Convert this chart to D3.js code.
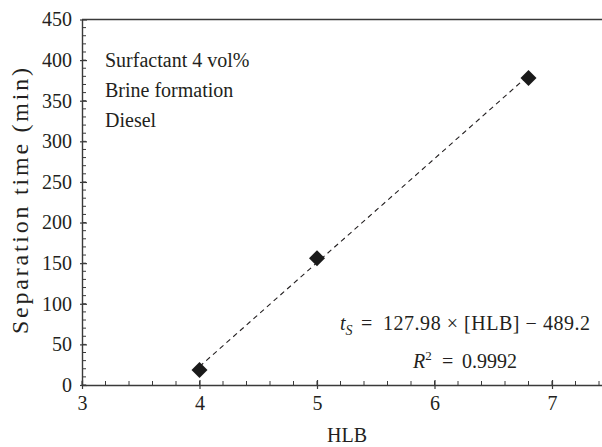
<!DOCTYPE html>
<html><head><meta charset="utf-8">
<script src="https://cdn.jsdelivr.net/npm/d3@7"></script>
<style>
body{margin:0;background:#fff;}
svg{display:block;}
text{font-family:"Liberation Serif","Times New Roman",serif;fill:#231f20;}
</style></head>
<body><svg id="c" width="602" height="447"></svg>
<script>
const hlb = [4, 5, 6.8];
const sepTime = [18.5, 156, 378];
const fitX = [4, 6.8];
const fitY = [22.7, 381.1];
const xTicks = [3, 4, 5, 6, 7];
const yTicks = [0, 50, 100, 150, 200, 250, 300, 350, 400, 450];
const notes = ["Surfactant 4 vol%", "Brine formation", "Diesel"];

const svg = d3.select("#c");
const x = d3.scaleLinear().domain([3, 7.5]).range([82, 82 + 4.5 * 117.5]);
const y = d3.scaleLinear().domain([0, 450]).range([385, 19.5]);
const axisCol = "#3a3a3a";

const xMinor = d3.range(3, 7.41, 0.2);
svg.append("g").selectAll("line").data(xMinor).join("line")
  .attr("x1", d => x(d)).attr("x2", d => x(d))
  .attr("y1", y(0)).attr("y2", y(0) - 4)
  .attr("stroke", axisCol).attr("stroke-width", 1);
const yMinor = d3.range(0, 451, 10);
svg.append("g").selectAll("line").data(yMinor).join("line")
  .attr("x1", x(3)).attr("x2", x(3) + 4)
  .attr("y1", d => y(d)).attr("y2", d => y(d))
  .attr("stroke", axisCol).attr("stroke-width", 1);

const gx = svg.append("g").attr("transform", `translate(0,${y(0)})`)
  .call(d3.axisBottom(x).tickValues(xTicks).tickSizeInner(-5).tickSizeOuter(0).tickPadding(11).tickFormat(d3.format("d")));
gx.selectAll(".tick line").attr("y1", 4).attr("stroke", axisCol).attr("stroke-width", 1.2);
gx.select(".domain").attr("stroke", axisCol).attr("stroke-width", 1.4);
gx.selectAll("text").style("font-size", "20px").attr("fill", "#231f20");

const gy = svg.append("g").attr("transform", `translate(${x(3)},0)`)
  .call(d3.axisLeft(y).tickValues(yTicks).tickSizeInner(-5).tickSizeOuter(0).tickPadding(10).tickFormat(d3.format("d")));
gy.selectAll(".tick line").attr("x1", -2).attr("stroke", axisCol).attr("stroke-width", 1.2);
gy.select(".domain").attr("stroke", axisCol).attr("stroke-width", 1.4);
gy.selectAll("text").style("font-size", "20px").attr("fill", "#231f20");

svg.append("line").attr("x1", x(3)).attr("x2", x(7.5)).attr("y1", y(450)).attr("y2", y(450))
  .attr("stroke", axisCol).attr("stroke-width", 1.4);

svg.append("path")
  .datum(fitX.map((d, i) => [d, fitY[i]]))
  .attr("d", d3.line().x(d => x(d[0])).y(d => y(d[1])))
  .attr("fill", "none").attr("stroke", "#231f20").attr("stroke-width", 1.1)
  .attr("stroke-dasharray", "5,4");

svg.append("g").selectAll("path").data(hlb).join("path")
  .attr("d", d3.symbol().type(d3.symbolSquare).size(128))
  .attr("transform", (d, i) => `translate(${x(d)},${y(sepTime[i])}) rotate(45)`)
  .attr("fill", "#1a1a1a");

svg.append("g").selectAll("text").data(notes).join("text")
  .attr("x", 105).attr("y", (d, i) => 67 + i * 30)
  .style("font-size", "20px").text(d => d);

svg.append("text").attr("x", 347).attr("y", 442).attr("text-anchor", "middle")
  .style("font-size", "20px").text("HLB");
svg.append("text").attr("transform", "translate(28,201) rotate(-90)").attr("text-anchor", "middle")
  .attr("textLength", 266).attr("lengthAdjust", "spacing")
  .style("font-size", "24px").text("Separation time (min)");

// equation
const eq = svg.append("text").attr("x", 340).attr("y", 330).style("font-size", "20px");
eq.append("tspan").style("font-style", "italic").text("t");
eq.append("tspan").style("font-style", "italic").style("font-size", "14px").attr("dy", 5).text("S");
svg.append("text").attr("x", 361).attr("y", 330).style("font-size", "20px").text("=");
svg.append("text").attr("x", 383).attr("y", 330).style("font-size", "20px")
  .attr("textLength", 207).attr("lengthAdjust", "spacing")
  .text("127.98 × [HLB] − 489.2");

const r2 = svg.append("text").attr("x", 413).attr("y", 368).style("font-size", "20px");
r2.append("tspan").style("font-style", "italic").text("R");
r2.append("tspan").style("font-size", "13px").attr("dy", -8).text("2");
svg.append("text").attr("x", 442).attr("y", 368).style("font-size", "20px").text("=");
svg.append("text").attr("x", 517).attr("y", 368).attr("text-anchor", "end").style("font-size", "20px")
  .text("0.9992");
</script></body></html>
